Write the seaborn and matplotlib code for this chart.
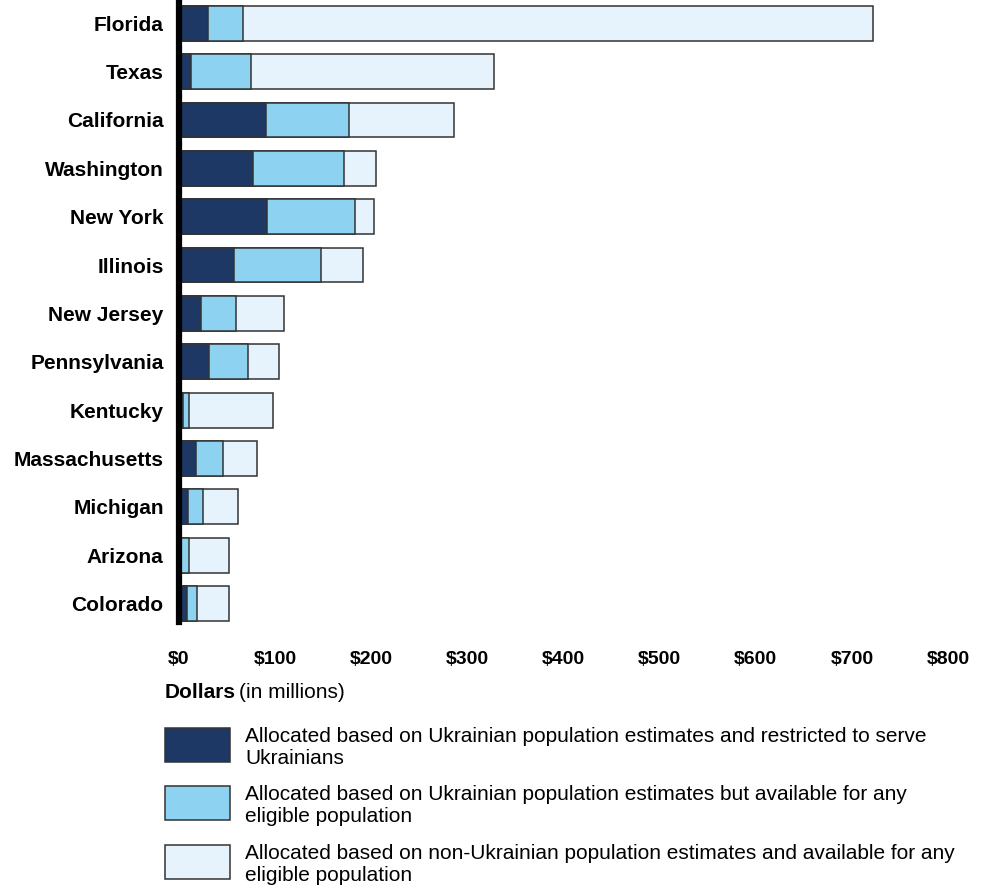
import matplotlib
matplotlib.use("Agg")
import matplotlib.pyplot as plt
import seaborn as sns
import pandas as pd
import numpy as np
from matplotlib.patches import Rectangle

states = ["Florida", "Texas", "California", "Washington", "New York", "Illinois",
          "New Jersey", "Pennsylvania", "Kentucky", "Massachusetts", "Michigan",
          "Arizona", "Colorado"]
restricted = [30, 12, 90, 77, 92, 57, 23, 31, 4.5, 18, 9, 2.5, 8.5]
ukr_any = [37, 63, 87, 95, 91, 91, 36, 41, 6, 28, 16, 8, 10]
non_ukr = [655, 253, 109, 33, 20, 43, 50, 32, 87.5, 35.5, 36, 41.5, 33.5]
xticks = [0, 100, 200, 300, 400, 500, 600, 700, 800]
xticklabels = ["$0", "$100", "$200", "$300", "$400", "$500", "$600", "$700", "$800"]
legend_labels = [
    "Allocated based on Ukrainian population estimates and restricted to serve\nUkrainians",
    "Allocated based on Ukrainian population estimates but available for any\neligible population",
    "Allocated based on non-Ukrainian population estimates and available for any\neligible population",
]

colors = ["#1d3864", "#8ed2f1", "#e6f3fc"]
edge = "#333333"

sns.set_theme(style="white")
plt.rcParams["font.family"] = ["Liberation Sans", "DejaVu Sans"]
plt.rcParams["text.color"] = "black"
plt.rcParams["xtick.color"] = "black"
plt.rcParams["ytick.color"] = "black"

df = pd.DataFrame({"state": states, "a": restricted, "b": ukr_any, "c": non_ukr})
df["ab"] = df["a"] + df["b"]
df["abc"] = df["ab"] + df["c"]

fig = plt.figure(figsize=(9.84, 8.93), dpi=100)
ax = fig.add_axes([179/984, 271/893, 769/984, 622/893])

for col, c in zip(["abc", "ab", "a"], [colors[2], colors[1], colors[0]]):
    sns.barplot(data=df, x=col, y="state", orient="h", color=c, width=0.72,
                edgecolor=edge, linewidth=1.1, saturation=1, ax=ax)

ax.set_xlim(0, 800)
ax.set_ylim(12.38, -0.48)
ax.set_xticks(xticks)
ax.set_xticklabels(xticklabels, fontsize=14, fontweight="bold")
ax.tick_params(axis="x", length=0, pad=21)
ax.tick_params(axis="y", length=0, pad=11)
for lab in ax.get_yticklabels():
    lab.set_fontsize(15)
    lab.set_fontweight("bold")
ax.set_xlabel("")
ax.set_ylabel("")
for s in ["top", "right", "bottom"]:
    ax.spines[s].set_visible(False)
ax.spines["left"].set_linewidth(4.5)
ax.spines["left"].set_color("black")

fig.text(165/984, 1 - 693/893, "Dollars", fontsize=15, fontweight="bold", va="center", ha="left")
fig.text(239/984, 1 - 693/893, "(in millions)", fontsize=15, va="center", ha="left")

ys = [728, 786, 845]
for y, c, lab in zip(ys, colors, legend_labels):
    fig.patches.append(Rectangle((165/984, 1 - (y + 34)/893), 65/984, 34/893,
                                 transform=fig.transFigure, facecolor=c,
                                 edgecolor=edge, linewidth=1.1))
    fig.text(245/984, 1 - (y - 1)/893, lab, fontsize=15, va="top", ha="left",
             linespacing=1.22)

fig.savefig("out.png", dpi=100)
